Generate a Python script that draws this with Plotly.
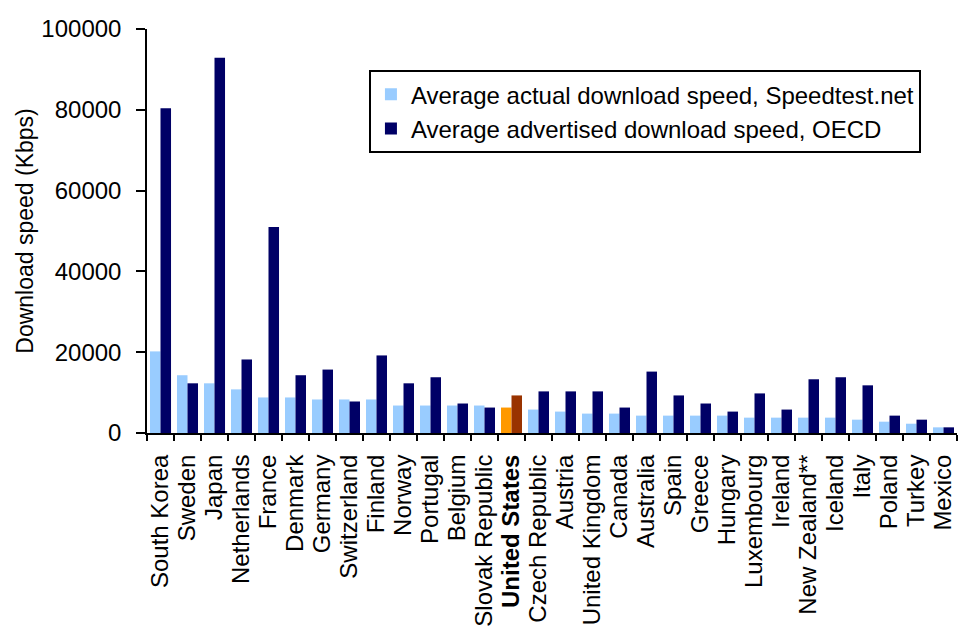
import plotly.graph_objects as go

countries = ["South Korea", "Sweden", "Japan", "Netherlands", "France", "Denmark", "Germany",
             "Switzerland", "Finland", "Norway", "Portugal", "Belgium", "Slovak Republic",
             "United States", "Czech Republic", "Austria", "United Kingdom", "Canada", "Australia",
             "Spain", "Greece", "Hungary", "Luxembourg", "Ireland", "New Zealand**", "Iceland",
             "Italy", "Poland", "Turkey", "Mexico"]
actual = [20200, 14300, 12300, 10800, 8800, 8800, 8300, 8300, 8300, 6800, 6800, 6800, 6800,
          6300, 5800, 5300, 4800, 4800, 4300, 4300, 4300, 4300, 3800, 3800, 3800, 3800,
          3300, 2800, 2300, 1400]
advertised = [80400, 12300, 92900, 18200, 51000, 14300, 15700, 7800, 19200, 12300, 13800, 7300,
              6300, 9300, 10300, 10300, 10300, 6300, 15200, 9300, 7300, 5300, 9800, 5800,
              13300, 13800, 11800, 4300, 3300, 1400]
highlight = "United States"
y_ticks = [0, 20000, 40000, 60000, 80000, 100000]

LIGHT, NAVY, ORANGE, BROWN = "#99CCFF", "#000066", "#FF9900", "#993300"
act_colors = [ORANGE if c == highlight else LIGHT for c in countries]
adv_colors = [BROWN if c == highlight else NAVY for c in countries]
tick_text = [f"<b>{c}</b>" if c == highlight else c for c in countries]

FONT = "Liberation Sans, Arial, sans-serif"

fig = go.Figure()
fig.add_bar(x=countries, y=actual, name="Average actual download speed, Speedtest.net",
            marker=dict(color=act_colors, line=dict(width=0)))
fig.add_bar(x=countries, y=advertised, name="Average advertised download speed, OECD",
            marker=dict(color=adv_colors, line=dict(width=0)))

fig.update_layout(
    width=961, height=628,
    margin=dict(l=147, r=4, t=29, b=195, autoexpand=False),
    paper_bgcolor="white", plot_bgcolor="white",
    barmode="group", bargap=0.22, bargroupgap=0,
    font=dict(family=FONT, size=24, color="black"),
    legend=dict(x=0.274, y=0.898, xanchor="left", yanchor="top",
                bordercolor="black", borderwidth=2, bgcolor="white",
                font=dict(size=24), tracegroupgap=0),
    showlegend=True,
)
fig.update_xaxes(type="category", tickmode="array", tickvals=countries, ticktext=tick_text,
                 tickangle=-90, showline=True, linecolor="black", linewidth=2,
                 ticks="outside", tickson="boundaries", ticklen=6, tickwidth=2, tickcolor="black",
                 showgrid=False, automargin=False, tickfont=dict(size=24),
                 ticklabelstandoff=10)
fig.update_yaxes(range=[0, 100000], tickvals=y_ticks, ticktext=[str(v) for v in y_ticks],
                 showline=True, linecolor="black", linewidth=1.5,
                 ticks="outside", ticklen=9, tickwidth=1.5, tickcolor="black",
                 showgrid=False, zeroline=False, automargin=False,
                 tickfont=dict(size=24), ticklabelstandoff=10,
                 title=dict(text="Download speed (Kbps)", font=dict(size=23), standoff=1))

fig.write_html("out.html", config={"displayModeBar": False},
               post_script="document.body.style.margin='0';document.body.style.overflow='hidden';")
